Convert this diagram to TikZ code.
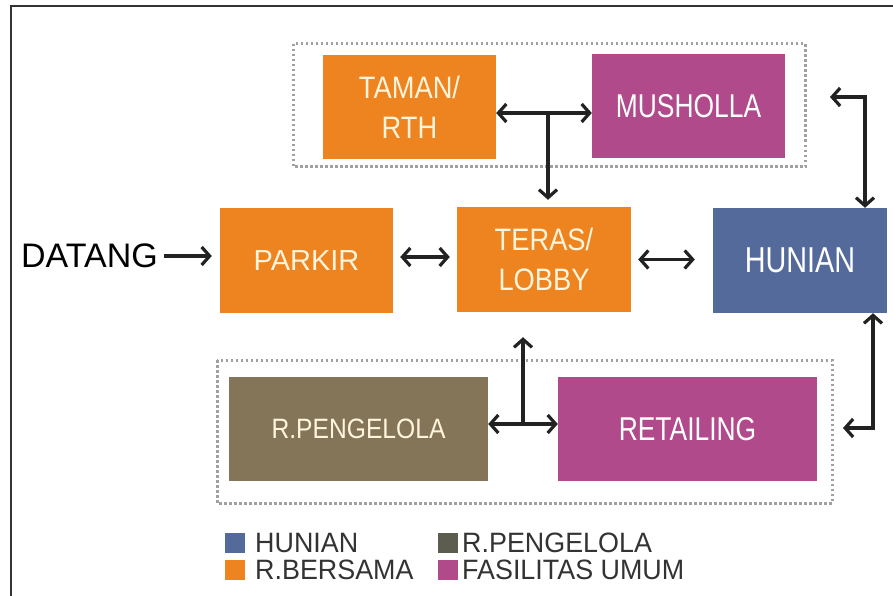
\documentclass[tikz,border=0pt]{standalone}
\usepackage{fontspec}
\setmainfont{Liberation Sans}
\newfontfamily\nfA[FakeStretch=0.8]{Liberation Sans}
\newfontfamily\nfB[FakeStretch=0.88]{Liberation Sans}
\newfontfamily\nfC[FakeStretch=0.96]{Liberation Sans}
\usetikzlibrary{arrows.meta}
\definecolor{cOrange}{HTML}{EE8420}
\definecolor{cPurple}{HTML}{B04A8A}
\definecolor{cBlue}{HTML}{546A9A}
\definecolor{cBrown}{HTML}{857558}
\definecolor{cDark}{HTML}{5C5C4F}
\definecolor{cLine}{HTML}{222222}
\definecolor{cDot}{HTML}{A0A0A0}
\definecolor{cCream}{HTML}{FFF4DC}
\definecolor{cLeg}{HTML}{333333}
\begin{document}
\begin{tikzpicture}[x=1pt,y=-1pt,
  box/.style={inner sep=0pt, align=center, text=white},
  obox/.style={box, fill=cOrange, text=cCream},
  conn/.style={draw=cLine, line width=3.2pt, >={Straight Barb[length=8pt,width=18pt]}},
  dotbox/.style={draw=cDot, line width=3pt, dash pattern=on 2.5pt off 2.5pt},
  lsq/.style={minimum size=20pt, inner sep=0pt},
  ltxt/.style={anchor=west, inner sep=0pt, text=cLeg, font=\nfC\fontsize{28}{30}\selectfont}]
\useasboundingbox (0,0) rectangle (893,596);
\fill[white] (0,0) rectangle (893,596);
\draw[line width=2pt, draw=cLeg] (11,596) -- (11,6) -- (893,6);
% dotted groups
\draw[dotbox] (293,44) rectangle (805,167);
\draw[dotbox] (217,360) rectangle (832,503);
% boxes
\node[obox, minimum width=173pt, minimum height=104pt, font=\nfB\fontsize{31}{40}\selectfont] (taman) at (409.5,107) {TAMAN/\\RTH};
\node[box, fill=cPurple, minimum width=193pt, minimum height=104pt, font=\nfA\fontsize{33}{36}\selectfont] (musholla) at (688.5,106) {MUSHOLLA};
\node[obox, minimum width=173pt, minimum height=105pt, font=\fontsize{29}{32}\selectfont] (parkir) at (306.5,260.5) {PARKIR};
\node[obox, minimum width=174pt, minimum height=105pt, font=\nfB\fontsize{31}{40}\selectfont] (teras) at (544,259.5) {TERAS/\\LOBBY};
\node[box, fill=cBlue, minimum width=174pt, minimum height=105pt, font=\nfA\fontsize{36}{38}\selectfont] (hunian) at (800,260.5) {HUNIAN};
\node[box, fill=cBrown, text=cCream, minimum width=259pt, minimum height=104pt, font=\nfB\fontsize{28}{30}\selectfont] (pengelola) at (358.5,429) {R.PENGELOLA};
\node[box, fill=cPurple, minimum width=259pt, minimum height=104pt, font=\nfA\fontsize{33}{36}\selectfont] (retailing) at (687.5,429) {RETAILING};
\node[anchor=west, inner sep=0pt, text=black, font=\fontsize{34}{36}\selectfont] (datang) at (21,256) {DATANG};
% connectors
\draw[conn,->,shorten <=6pt,shorten >=8pt] (datang.east) -- (parkir.west |- datang.east);
\coordinate (jt) at (548,113);
\draw[conn,<->] (taman.east |- jt) -- (musholla.west |- jt);
\draw[conn,->,shorten >=7pt] (jt) -- (jt |- teras.north);
\coordinate (pl) at (0,257);
\draw[conn,<->,shorten <=7pt,shorten >=7pt] (parkir.east |- pl) -- (teras.west |- pl);
\draw[conn,<->,shorten <=7pt,shorten >=18pt] (teras.east) -- (hunian.west |- teras.east);
\coordinate (mh) at (830,97);
\draw[conn,<->] (mh) -| ([xshift=65pt]hunian.north);
\coordinate (rh) at (843,428);
\draw[conn,<->] ([xshift=73pt]hunian.south) |- (rh);
\coordinate (jb) at (523,424);
\draw[conn,<->] (pengelola.east |- jb) -- (retailing.west |- jb);
\draw[conn,->,shorten >=25pt] (jb) -- (jb |- teras.south);
% legend
\node[lsq, fill=cBlue] (l1) at (234.5,543) {};
\node[ltxt] (t1) at (255,543) {HUNIAN};
\node[lsq, fill=cOrange] (l2) at (234.5,570) {};
\node[ltxt] (t2) at (255,570) {R.BERSAMA};
\node[lsq, fill=cDark] (l3) at (448,543) {};
\node[ltxt] (t3) at (462,543) {R.PENGELOLA};
\node[lsq, fill=cPurple] (l4) at (448,570) {};
\node[ltxt] (t4) at (462,570) {FASILITAS UMUM};
\end{tikzpicture}
\end{document}
